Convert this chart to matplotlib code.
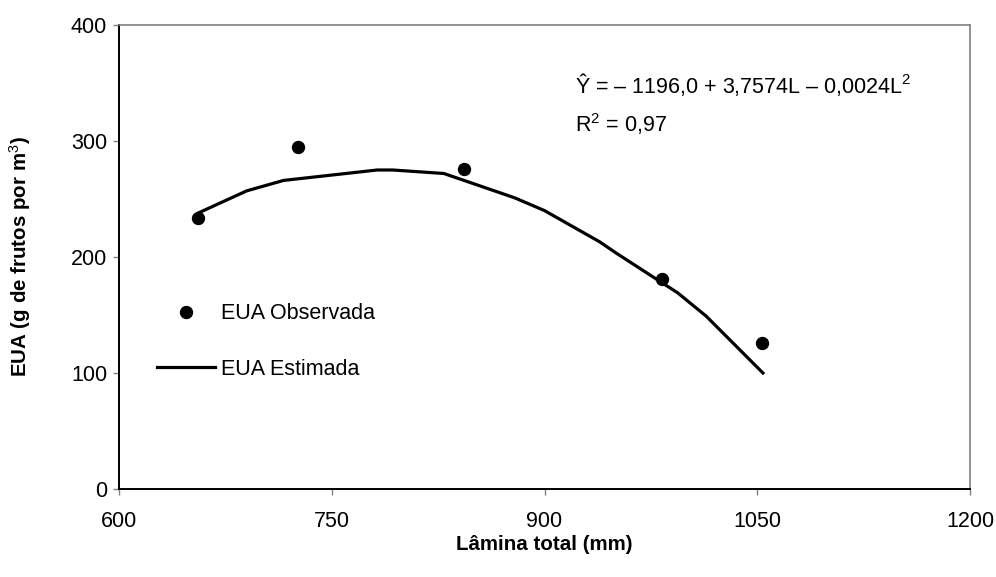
import matplotlib
matplotlib.use("Agg")
from matplotlib import pyplot as plt

plt.rcParams['font.family'] = ['Liberation Sans', 'DejaVu Sans']
plt.rcParams['mathtext.fontset'] = 'custom'
plt.rcParams['mathtext.rm'] = 'Liberation Sans'
plt.rcParams['mathtext.it'] = 'Liberation Sans'

# observed water use efficiency
lamina_obs = [656, 726, 843, 983, 1053]
eua_obs = [234, 295, 276, 181, 126]

# estimated curve
lamina_est = [656, 690, 716, 782, 793, 829, 879, 900, 939, 951, 994, 1014, 1054]
eua_est = [238, 257, 266, 275, 275, 272, 251, 240, 213, 203, 169, 149, 100]

x_ticks = [600, 750, 900, 1050, 1200]
y_ticks = [0, 100, 200, 300, 400]

fs = 15.5
fs_lab = 14.8

fig = plt.figure(figsize=(9.96, 5.77), dpi=100)
ax = fig.add_axes([119/996, 1-489/577, 851/996, 464/577])

ax.plot(lamina_obs, eua_obs, 'o', color='black', markersize=8.6, label='EUA Observada')
ax.plot(lamina_est, eua_est, '-', color='black', linewidth=2.3, label='EUA Estimada')

ax.set_xlim(600, 1200)
ax.set_ylim(0, 400)
ax.set_xticks(x_ticks)
ax.set_yticks(y_ticks)
ax.tick_params(axis='both', direction='out', length=4.5, width=1, color='#808080', labelsize=fs)
ax.tick_params(axis='x', pad=11)
ax.tick_params(axis='y', pad=4)

for s in ['left', 'bottom']:
    ax.spines[s].set_color('black')
    ax.spines[s].set_linewidth(1.4)
for s in ['top', 'right']:
    ax.spines[s].set_color('#808080')
    ax.spines[s].set_linewidth(1.2)

ax.legend(loc='center left', bbox_to_anchor=(0.0447, 0.318), frameon=False,
          fontsize=fs, handlelength=2.7, handletextpad=0.25, labelspacing=1.6,
          borderpad=0, borderaxespad=0)

ax.text(0.536, 0.871, 'Ŷ = – 1196,0 + 3,7574L – 0,0024L$^{2}$', transform=ax.transAxes,
        fontsize=fs, ha='left', va='center')
ax.text(0.536, 0.787, 'R$^{2}$ = 0,97', transform=ax.transAxes,
        fontsize=fs, ha='left', va='center')

fig.text(544.5/996, 1-545/577, 'Lâmina total (mm)', fontsize=fs_lab, fontweight='bold',
         ha='center', va='center')
fig.text(20/996, 1-257/577, 'EUA (g de frutos por m$^{3}$)', fontsize=fs_lab, fontweight='bold',
         rotation=90, ha='center', va='center')

fig.savefig('out.png', dpi=100)
